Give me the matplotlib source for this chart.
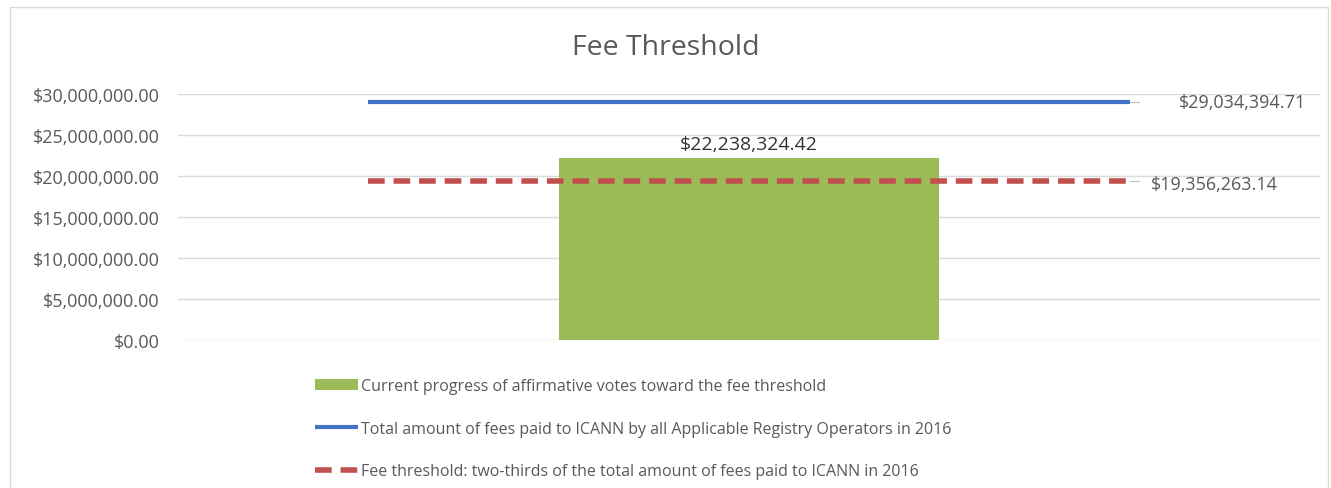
import matplotlib
matplotlib.use('Agg')
import matplotlib.pyplot as plt
from matplotlib.patches import Rectangle
from matplotlib.ticker import FuncFormatter

# data
category = ['Fee Threshold']
progress = [22238324.42]
total_fees = 29034394.71
threshold = 19356263.14
y_ticks = [0, 5e6, 10e6, 15e6, 20e6, 25e6, 30e6]

legend_labels = [
    'Current progress of affirmative votes toward the fee threshold',
    'Total amount of fees paid to ICANN by all Applicable Registry Operators in 2016',
    'Fee threshold: two-thirds of the total amount of fees paid to ICANN in 2016',
]

GREEN = '#9BBB59'
BLUE = '#4472C4'
RED = '#C0504D'
GRAY = '#595959'

plt.rcParams['font.family'] = ['Open Sans', 'DejaVu Sans']


def money(v, pos=None):
    return f'${v:,.2f}'


fig = plt.figure(figsize=(13.31, 4.89), dpi=100)
ax = fig.add_axes([0.1337, 0.3027, 0.858, 0.503])

bar = ax.bar([0], progress, width=1.0, color=GREEN, zorder=2)
blue, = ax.plot([-1, 1], [total_fees, total_fees], color=BLUE, linewidth=3, zorder=3,
                solid_capstyle='butt')
red, = ax.plot([-1, 1], [threshold, threshold], color=RED, linewidth=4, zorder=3,
               dashes=(3, 1.6), dash_capstyle='butt')

ax.text(0, progress[0] + 6e5, money(progress[0]), ha='center', va='bottom',
        fontsize=14, color='#333333')

# short leader lines from the line ends to the value labels
for v in (total_fees, threshold):
    ax.plot([1.0, 1.025], [v, v], color='#BFBFBF', linewidth=0.8, zorder=2)
ax.text(1.13, total_fees, money(total_fees), va='center', ha='left', fontsize=13, color=GRAY)
ax.text(1.055, threshold - 3e5, money(threshold), va='center', ha='left', fontsize=13,
        color=GRAY)

ax.set_xlim(-1.5, 1.5)
ax.set_ylim(0, 30e6)
ax.set_yticks(y_ticks)
ax.yaxis.set_major_formatter(FuncFormatter(money))
ax.set_xticks([])
ax.tick_params(axis='y', length=0, pad=13, labelsize=13, labelcolor=GRAY)
ax.grid(axis='y', color='#D9D9D9', linewidth=1, zorder=0)
ax.set_axisbelow(True)
for s in ax.spines.values():
    s.set_visible(False)

fig.text(0.5, 0.902, 'Fee Threshold', ha='center', va='center', fontsize=20.5, color=GRAY)

fig.legend([bar, blue, red], legend_labels, loc='upper left',
           bbox_to_anchor=(0.2315, 0.237), frameon=False, fontsize=11.5,
           labelcolor=GRAY, handlelength=2.7, handletextpad=0.2,
           labelspacing=1.65, borderaxespad=0)

fig.patches.append(Rectangle((0.0075, -0.01), 0.99, 0.994, transform=fig.transFigure,
                             fill=False, edgecolor='#D9D9D9', linewidth=1))

fig.savefig('out.png', dpi=100)
plt.close(fig)
